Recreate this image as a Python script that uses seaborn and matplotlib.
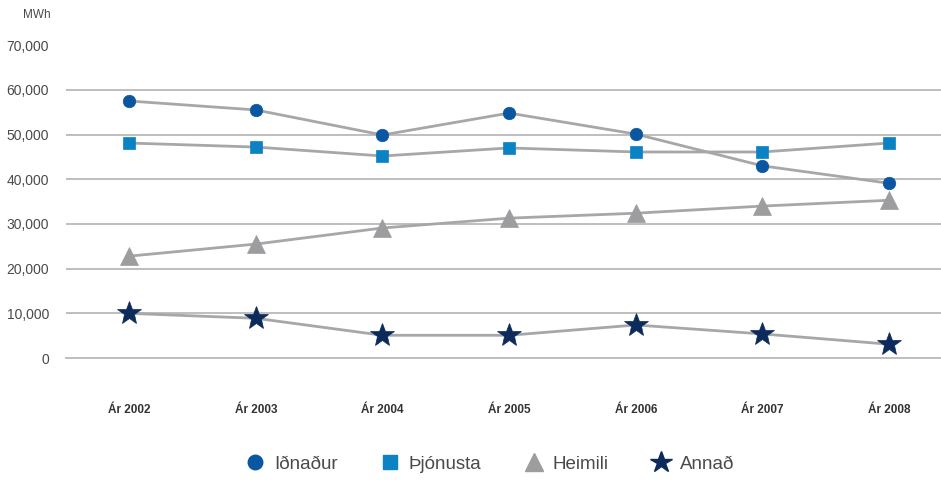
import pandas as pd
import matplotlib.pyplot as plt
import seaborn as sns
from matplotlib.lines import Line2D
from matplotlib.ticker import FixedLocator

# Data (MWh)
years = ["Ár 2002", "Ár 2003", "Ár 2004", "Ár 2005", "Ár 2006", "Ár 2007", "Ár 2008"]
idnadur = [57500, 55500, 49900, 54800, 50100, 43000, 39100]
thjonusta = [48100, 47200, 45200, 47000, 46100, 46100, 48100]
heimili = [22800, 25500, 29100, 31300, 32400, 34000, 35300]
annad = [10000, 8900, 5100, 5100, 7400, 5400, 3100]

series_names = ["Iðnaður", "Þjónusta", "Heimili", "Annað"]
series_values = [idnadur, thjonusta, heimili, annad]
markers = ["o", "s", "^", "*"]
colors = ["#0a56a1", "#0a82c3", "#9d9da0", "#0c2b5b"]
sizes = [9, 9, 13, 18]
line_gray = "#a7a7aa"
grid_gray = "#b9b9bb"
text_gray = "#4a4a4a"

sns.set_style("white")
plt.rcParams["font.family"] = ["Liberation Sans", "DejaVu Sans"]

rows = []
for name, vals in zip(series_names, series_values):
    for i, (yr, v) in enumerate(zip(years, vals)):
        rows.append({"series": name, "pos": i, "year": yr, "value": v})
df = pd.DataFrame(rows)

fig = plt.figure(figsize=(9.41, 4.8), dpi=100)
ax = fig.add_axes([0.070, 0.254, 0.93, 0.652])

for name, m, c, s in zip(series_names, markers, colors, sizes):
    sub = df[df["series"] == name]
    sns.lineplot(data=sub, x="pos", y="value", ax=ax, color=line_gray, linewidth=2,
                 marker=m, markersize=s, markerfacecolor=c, markeredgecolor=c,
                 markeredgewidth=0.5, zorder=3)

ax.set_xlim(-0.5, 6.41)
ax.set_ylim(0, 70000)
ax.set_yticks(range(0, 70001, 10000))
ax.set_yticklabels([f"{v:,}" for v in range(0, 70001, 10000)], fontsize=10, color=text_gray)
for v in range(10000, 60001, 10000):
    ax.axhline(v, color=grid_gray, linewidth=1.3, zorder=1)

ax.set_xticks(range(len(years)))
ax.set_xticklabels(years, fontsize=8.5, fontweight="bold", color="#333333")
ax.xaxis.set_minor_locator(FixedLocator([i - 0.5 for i in range(len(years) + 1)]))
ax.tick_params(axis="x", which="major", length=0, pad=33)
ax.tick_params(axis="x", which="minor", length=6, width=1.3, color=grid_gray, direction="out")
ax.tick_params(axis="y", length=0, pad=12)

for side in ["top", "right", "left"]:
    ax.spines[side].set_visible(False)
ax.spines["bottom"].set_color(grid_gray)
ax.spines["bottom"].set_linewidth(1.3)
ax.set_xlabel("")
ax.set_ylabel("")

fig.text(0.024, 0.968, "MWh", fontsize=8.5, color=text_gray, ha="left", va="center")

handles = [Line2D([], [], linestyle="none", marker=m, color=c, markersize=s * 0.95)
           for m, c, s in zip(markers, colors, [11, 11, 14, 17])]
fig.legend(handles, series_names, loc="center", bbox_to_anchor=(0.52, 0.033), ncol=4,
           frameon=False, fontsize=13.5, labelcolor=text_gray, handletextpad=0.4,
           columnspacing=2.2, handlelength=1.2)

fig.savefig("out.png", dpi=100)
